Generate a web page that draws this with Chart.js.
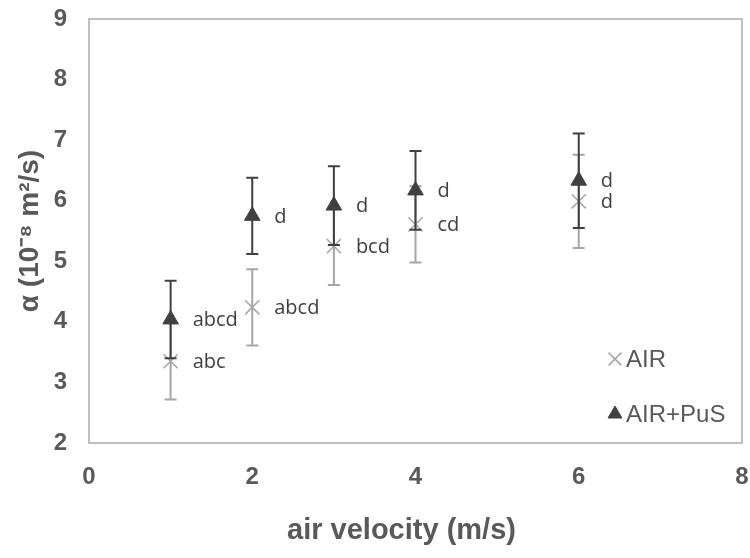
<!DOCTYPE html>
<html lang="en">
<head>
  <meta charset="UTF-8">
  <title>Thermal diffusivity vs air velocity</title>
  <style>
    * { margin: 0; padding: 0; box-sizing: border-box; }
    body { width: 750px; height: 558px; background: #fff; }
    #chart-container { position: relative; width: 750px; height: 558px; }
  </style>
</head>
<body>
  <div id="chart-container"><canvas id="chart" width="750" height="558"></canvas></div>

  <script src="https://cdn.jsdelivr.net/npm/chart.js"></script>
  <script>
    // values
    const velocities = [1, 2, 3, 4, 6];
    const airMean = [3.35, 4.24, 5.25, 5.61, 5.99];
    const airErr = [0.63, 0.63, 0.64, 0.63, 0.77];
    const airLetters = ['abc', 'abcd', 'bcd', 'cd', 'd'];
    const pusMean = [4.04, 5.75, 5.92, 6.17, 6.33];
    const pusErr = [0.64, 0.63, 0.65, 0.65, 0.78];
    const pusLetters = ['abcd', 'd', 'd', 'd', 'd'];
    const xTicks = [0, 2, 4, 6, 8];
    const yTicks = [2, 3, 4, 5, 6, 7, 8, 9];

    const GRAY = '#a6a6a6';
    const DARK = '#404040';
    const AXIS_TEXT = '#595959';
    const FONT = '"Liberation Sans", Arial, sans-serif';

    const toPoints = (means) => velocities.map((v, i) => ({ x: v, y: means[i] }));

    // border round the plot area
    const frame = {
      id: 'frame',
      beforeDatasetsDraw(chart) {
        const { ctx, chartArea: a } = chart;
        ctx.save();
        ctx.strokeStyle = '#bfbfbf';
        ctx.lineWidth = 2;
        ctx.strokeRect(a.left, a.top, a.right - a.left, a.bottom - a.top);
        ctx.restore();
      }
    };

    // vertical error bars, drawn under each dataset's own markers
    const errorBars = {
      id: 'errorBars',
      beforeDatasetDraw(chart, args) {
        const ds = chart.data.datasets[args.index];
        const { ctx, scales: { x, y } } = chart;
        ctx.save();
        ctx.strokeStyle = ds.errColor;
        ctx.lineWidth = 2;
        ds.data.forEach((p, i) => {
          const px = x.getPixelForValue(p.x);
          const top = y.getPixelForValue(p.y + ds.errors[i]);
          const bot = y.getPixelForValue(p.y - ds.errors[i]);
          ctx.beginPath();
          ctx.moveTo(px, top); ctx.lineTo(px, bot);
          ctx.moveTo(px - 6, top); ctx.lineTo(px + 6, top);
          ctx.moveTo(px - 6, bot); ctx.lineTo(px + 6, bot);
          ctx.stroke();
        });
        ctx.restore();
      }
    };

    // significance letters to the right of each marker
    const letters = {
      id: 'letters',
      afterDatasetsDraw(chart) {
        const { ctx } = chart;
        ctx.save();
        ctx.font = '20px "Open Sans", sans-serif';
        ctx.fillStyle = DARK;
        ctx.textAlign = 'left';
        ctx.textBaseline = 'middle';
        chart.data.datasets.forEach((ds, di) => {
          const meta = chart.getDatasetMeta(di);
          meta.data.forEach((el, i) => {
            ctx.fillText(ds.letters[i], el.x + 22, el.y + 1);
          });
        });
        ctx.restore();
      }
    };

    // legend inside the bottom right of the plot, x-axis title a little left of centre
    const extras = {
      id: 'extras',
      afterDraw(chart) {
        const { ctx, chartArea: a } = chart;
        const rows = [
          { ds: chart.data.datasets[0], y: a.bottom - 84 },
          { ds: chart.data.datasets[1], y: a.bottom - 29 }
        ];
        ctx.save();
        ctx.font = '24px ' + FONT;
        ctx.textBaseline = 'middle';
        rows.forEach(r => {
          const mx = a.right - 127;
          ctx.fillStyle = r.ds.backgroundColor;
          ctx.strokeStyle = r.ds.borderColor;
          ctx.lineWidth = r.ds.borderWidth;
          Chart.helpers.drawPoint(ctx, {
            pointStyle: r.ds.pointStyle,
            radius: r.ds.pointStyle === 'triangle' ? 8 : 9,
            rotation: 0,
            borderWidth: r.ds.borderWidth
          }, mx, r.y);
          ctx.fillStyle = AXIS_TEXT;
          ctx.fillText(r.ds.label, mx + 11, r.y + 1);
        });

        ctx.font = 'bold 29px ' + FONT;
        ctx.textAlign = 'center';
        ctx.fillText('air velocity (m/s)', (a.left + a.right) / 2 - 14, a.bottom + 88);
        ctx.restore();
      }
    };

    const tickFont = { family: FONT, size: 24, weight: 'bold' };

    new Chart(document.getElementById('chart'), {
      type: 'scatter',
      data: {
        datasets: [
          {
            label: 'AIR',
            data: toPoints(airMean),
            errors: airErr,
            letters: airLetters,
            errColor: GRAY,
            pointStyle: 'crossRot',
            pointRadius: 10,
            pointHoverRadius: 10,
            borderColor: GRAY,
            backgroundColor: GRAY,
            borderWidth: 1.5,
            order: 2
          },
          {
            label: 'AIR+PuS',
            data: toPoints(pusMean),
            errors: pusErr,
            letters: pusLetters,
            errColor: DARK,
            pointStyle: 'triangle',
            pointRadius: 9,
            pointHoverRadius: 9,
            borderColor: DARK,
            backgroundColor: DARK,
            borderWidth: 1,
            order: 1
          }
        ]
      },
      options: {
        responsive: false,
        animation: false,
        maintainAspectRatio: false,
        layout: { autoPadding: false, padding: { top: 19, right: 8, left: 0, bottom: 0 } },
        plugins: {
          legend: { display: false },
          tooltip: { enabled: false }
        },
        scales: {
          x: {
            type: 'linear',
            min: 0,
            max: 8,
            afterBuildTicks: (s) => { s.ticks = xTicks.map(v => ({ value: v })); },
            afterFit: (s) => { s.height = 115; s.paddingLeft = 0; s.paddingRight = 0; },
            grid: { display: false, drawTicks: false },
            border: { display: false },
            ticks: { color: AXIS_TEXT, font: tickFont, padding: 20 }
          },
          y: {
            type: 'linear',
            min: 2,
            max: 9,
            afterBuildTicks: (s) => { s.ticks = yTicks.map(v => ({ value: v })); },
            afterFit: (s) => { s.width = 89; s.paddingTop = 0; s.paddingBottom = 0; },
            grid: { display: false, drawTicks: false },
            border: { display: false },
            ticks: { color: AXIS_TEXT, font: tickFont, padding: 22 },
            title: {
              display: true,
              text: 'α (10⁻⁸ m²/s)',
              color: AXIS_TEXT,
              font: { family: FONT, size: 28, weight: 'bold' },
              padding: { top: 13, bottom: 0 }
            }
          }
        }
      },
      plugins: [frame, errorBars, letters, extras]
    });
  </script>
</body>
</html>
